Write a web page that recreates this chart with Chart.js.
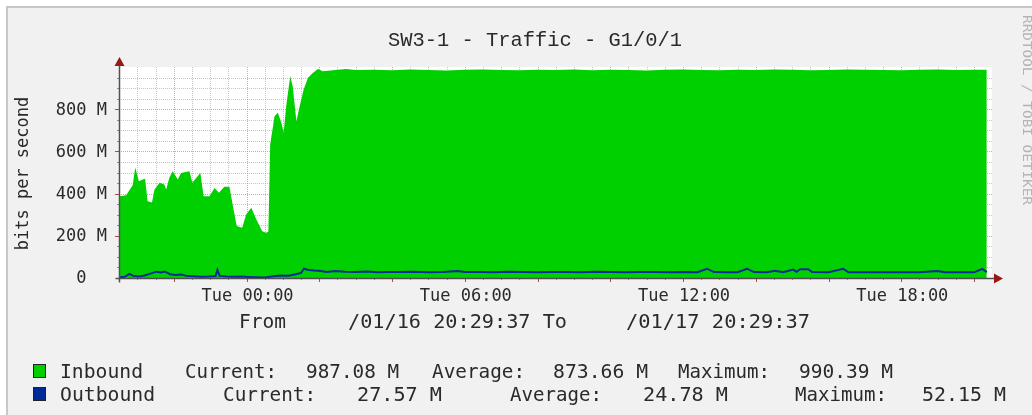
<!DOCTYPE html>
<html><head><meta charset="utf-8">
<script src="https://cdn.jsdelivr.net/npm/chart.js@4/dist/chart.umd.min.js"></script>
<style>html,body{margin:0;padding:0;background:#fff;overflow:hidden}</style>
</head><body>
<canvas id="c" width="1032" height="415"></canvas>
<script>
// ---------- data ----------
const titleText = 'SW3-1 - Traffic - G1/0/1';
const yAxisTitle = 'bits per second';
const sideText = 'RRDTOOL / TOBI OETIKER';
// hours relative to Tue 00:00
const inTimes = [-3.49,-3.31,-3.17,-3.13,-3.06,-2.96,-2.85,-2.79,-2.72,-2.60,-2.53,-2.39,-2.26,-2.21,-2.12,-2.03,-1.89,-1.80,-1.57,-1.49,-1.38,-1.27,-1.18,-1.02,-0.88,-0.76,-0.61,-0.47,-0.39,-0.27,-0.12,-0.01,0.13,0.27,0.43,0.54,0.60,0.65,0.77,0.86,0.96,1.02,1.09,1.20,1.27,1.37,1.46,1.57,1.69,1.82,1.96,2.10,2.37,2.74,3.0,3.5,4.0,4.5,5.0,5.5,6.0,6.5,7.0,7.5,8.0,8.5,9.0,9.5,10.0,10.5,11.0,11.5,12.0,12.5,13.0,13.5,14.0,14.5,15.0,15.5,16.0,16.5,17.0,17.5,18.0,18.5,19.0,19.5,20.0,20.35];
const inValues = [388,392,429,440,524,459,467,470,364,358,419,451,443,419,476,506,467,498,506,451,475,498,388,388,427,404,432,432,356,246,238,301,333,277,222,214,220,633,767,783,735,688,814,956,909,743,814,893,949,972,991,980,985,990,986,987,985,988,986,984,987,988,986,985,987,986,988,985,987,986,984,987,988,986,985,987,986,988,987,985,986,988,987,986,985,987,988,986,987,987];
const outTimes = [-3.49,-3.35,-3.22,-3.10,-2.95,-2.80,-2.62,-2.48,-2.35,-2.25,-2.10,-1.95,-1.80,-1.62,-1.45,-1.25,-1.05,-0.85,-0.80,-0.74,-0.55,-0.35,-0.15,0.05,0.25,0.40,0.55,0.75,0.95,1.15,1.35,1.50,1.58,1.70,1.85,2.00,2.20,2.45,2.70,3.0,3.3,3.6,3.9,4.2,4.6,5.0,5.4,5.8,6.0,6.4,6.8,7.2,7.6,8.0,8.4,8.8,9.2,9.6,10.0,10.4,10.8,11.2,11.6,12.0,12.4,12.66,12.85,13.2,13.5,13.76,13.95,14.3,14.53,14.75,15.03,15.12,15.22,15.44,15.55,16.0,16.4,16.55,17.0,17.5,18.0,18.5,18.99,19.2,19.6,20.0,20.23,20.35];
const outValues = [3,6,20,9,7,12,22,30,26,31,18,14,17,9,8,6,7,9,38,10,7,6,7,5,3,2,4,8,12,11,18,24,44,38,35,34,29,33,30,28,31,27,29,28,30,27,28,33,28,29,27,30,28,27,29,28,27,30,28,27,28,29,27,28,27,44,28,27,27,44,28,27,34,27,40,29,42,42,28,27,44,27,27,27,27,27,33,27,27,27,43,27.6];
const yTickValues = [0,200,400,600,800];
const yTickLabels = ['0  ','200 M','400 M','600 M','800 M'];
const xTickValues = [0,6,12,18];
const xTickLabels = ['Tue 00:00','Tue 06:00','Tue 12:00','Tue 18:00'];
const seriesNames = ['Inbound','Outbound'];
const seriesColors = ['#00CF00','#002A97'];
const statLabels = ['Current:','Average:','Maximum:'];
const inboundStats = ['987.08 M','873.66 M','990.39 M'];
const outboundStats = ['27.57 M','24.78 M','52.15 M'];
const fromLine = ['From','/01/16 20:29:37 To','/01/17 20:29:37'];
const X_MIN = -3.5064, X_MAX = 20.4936, Y_MAX = 1000;

// ---------- helpers ----------
function fitText(ctx, text, x, y, w) {
  const m = ctx.measureText(text).width;
  ctx.save(); ctx.translate(x, y); ctx.scale(w / m, 1);
  ctx.textAlign = 'left'; ctx.fillText(text, 0, 0); ctx.restore();
}
const MONO = '"DejaVu Sans Mono", monospace';

const decor = {
  id: 'rrdDecor',
  beforeDraw(chart) {
    const ctx = chart.ctx, a = chart.chartArea;
    ctx.save();
    ctx.fillStyle = '#ffffff'; ctx.fillRect(0, 0, 1032, 415);
    ctx.fillStyle = '#f1f1f1'; ctx.fillRect(7, 7, 1030, 410);
    ctx.strokeStyle = '#c8c8c8'; ctx.lineWidth = 2;
    ctx.beginPath(); ctx.moveTo(7, 420); ctx.lineTo(7, 7); ctx.lineTo(1040, 7); ctx.stroke();
    ctx.fillStyle = '#ffffff'; ctx.fillRect(a.left, a.top, a.right - a.left, a.bottom - a.top);
    ctx.restore();
  },
  beforeDatasetsDraw(chart) {
    const ctx = chart.ctx, a = chart.chartArea, xs = chart.scales.x, ys = chart.scales.y;
    ctx.save(); ctx.lineWidth = 1;
    for (let v = 50; v < Y_MAX; v += 50) {
      const major = v % 200 === 0;
      const py = Math.round(ys.getPixelForValue(v)) + 0.5;
      ctx.strokeStyle = major ? 'rgba(240,120,120,0.75)' : 'rgba(150,150,150,0.55)';
      ctx.setLineDash([1, 1]);
      ctx.beginPath(); ctx.moveTo(a.left, py); ctx.lineTo(a.right, py); ctx.stroke();
      ctx.setLineDash([]);
      ctx.strokeStyle = major ? '#c04040' : '#909090';
      ctx.beginPath(); ctx.moveTo(a.left - (major ? 4 : 2), py); ctx.lineTo(a.left, py); ctx.stroke();
    }
    for (let h = Math.ceil(X_MIN * 2) / 2; h <= X_MAX; h += 0.5) {
      const major = Math.abs(h % 2) < 1e-9;
      const px = Math.round(xs.getPixelForValue(h)) + 0.5;
      ctx.strokeStyle = major ? 'rgba(240,120,120,0.75)' : 'rgba(150,150,150,0.55)';
      ctx.setLineDash([1, 1]);
      ctx.beginPath(); ctx.moveTo(px, a.top); ctx.lineTo(px, a.bottom); ctx.stroke();
      ctx.setLineDash([]);
      ctx.strokeStyle = major ? '#c04040' : '#909090';
      ctx.beginPath(); ctx.moveTo(px, a.bottom); ctx.lineTo(px, a.bottom + (major ? 4 : 2)); ctx.stroke();
    }
    ctx.restore();
  },
  afterDraw(chart) {
    const ctx = chart.ctx, a = chart.chartArea, xs = chart.scales.x, ys = chart.scales.y;
    ctx.save();
    // axes
    const ax = Math.round(a.left) + 0.5, ay = Math.round(a.bottom) + 0.5;
    ctx.strokeStyle = '#505050'; ctx.lineWidth = 1.5;
    ctx.beginPath(); ctx.moveTo(ax, ay + 4); ctx.lineTo(ax, a.top - 2); ctx.stroke();
    ctx.beginPath(); ctx.moveTo(ax - 4, ay); ctx.lineTo(a.right + 3, ay); ctx.stroke();
    ctx.fillStyle = '#981818';
    ctx.beginPath(); ctx.moveTo(ax - 5, a.top - 1); ctx.lineTo(ax + 5, a.top - 1); ctx.lineTo(ax, a.top - 10); ctx.closePath(); ctx.fill();
    ctx.beginPath(); ctx.moveTo(a.right + 2, ay - 5); ctx.lineTo(a.right + 2, ay + 5); ctx.lineTo(a.right + 11, ay); ctx.closePath(); ctx.fill();

    ctx.fillStyle = '#2a2a2a';
    // title
    ctx.font = '20px "Liberation Mono", monospace'; ctx.textBaseline = 'alphabetic';
    fitText(ctx, titleText, 388, 46, 294);
    // y ticks
    ctx.font = '17px ' + MONO; ctx.textAlign = 'right'; ctx.textBaseline = 'middle';
    yTickValues.forEach((v, i) => ctx.fillText(yTickLabels[i], 107, ys.getPixelForValue(v) + 1));
    // x ticks
    ctx.textAlign = 'center'; ctx.textBaseline = 'alphabetic';
    xTickValues.forEach((v, i) => ctx.fillText(xTickLabels[i], xs.getPixelForValue(v) + 1, 301));
    // y title
    ctx.save(); ctx.translate(24, 173.5); ctx.rotate(-Math.PI / 2);
    ctx.textAlign = 'center'; ctx.textBaseline = 'middle'; ctx.fillText(yAxisTitle, 0, 0); ctx.restore();
    // from line
    ctx.font = '19px ' + MONO; ctx.textBaseline = 'alphabetic';
    fitText(ctx, fromLine[0], 239, 328, 47);
    fitText(ctx, fromLine[1], 348, 328, 219);
    fitText(ctx, fromLine[2], 626, 328, 184);
    // legend boxes
    [364, 387].forEach((y, i) => {
      ctx.fillStyle = seriesColors[i]; ctx.fillRect(33, y, 13, 14);
      ctx.strokeStyle = '#222'; ctx.lineWidth = 1; ctx.strokeRect(33.5, y + 0.5, 12, 13);
    });
    ctx.fillStyle = '#2a2a2a';
    // legend row 1
    fitText(ctx, seriesNames[0], 60, 378, 83);
    fitText(ctx, statLabels[0], 185, 378, 92);
    fitText(ctx, inboundStats[0], 306, 378, 93);
    fitText(ctx, statLabels[1], 432, 378, 93);
    fitText(ctx, inboundStats[1], 553, 378, 95);
    fitText(ctx, statLabels[2], 678, 378, 92);
    fitText(ctx, inboundStats[2], 799, 378, 94);
    // legend row 2
    fitText(ctx, seriesNames[1], 60, 401, 95);
    fitText(ctx, statLabels[0], 223, 401, 93);
    fitText(ctx, outboundStats[0], 357, 401, 85);
    fitText(ctx, statLabels[1], 510, 401, 92);
    fitText(ctx, outboundStats[1], 643, 401, 85);
    fitText(ctx, statLabels[2], 795, 401, 92);
    fitText(ctx, outboundStats[2], 922, 401, 84);
    // side credit
    ctx.fillStyle = '#b4b4b4'; ctx.font = '13px ' + MONO; ctx.textBaseline = 'middle';
    ctx.save(); ctx.translate(1026, 110); ctx.rotate(Math.PI / 2);
    const sw = ctx.measureText(sideText).width;
    ctx.scale(190 / sw, 1); ctx.textAlign = 'center'; ctx.fillText(sideText, 0, 0); ctx.restore();
    ctx.restore();
  }
};

const toPts = (t, v) => t.map((h, i) => ({ x: h, y: v[i] }));
new Chart(document.getElementById('c').getContext('2d'), {
  type: 'line',
  data: { datasets: [
    { label: seriesNames[0], data: toPts(inTimes, inValues), fill: 'origin', backgroundColor: seriesColors[0],
      borderColor: seriesColors[0], borderWidth: 0, pointRadius: 0, tension: 0, order: 2 },
    { label: seriesNames[1], data: toPts(outTimes, outValues), fill: false, borderColor: seriesColors[1],
      borderWidth: 2, pointRadius: 0, tension: 0, order: 1 }
  ] },
  options: {
    responsive: false, animation: false, devicePixelRatio: 1,
    layout: { padding: { left: 119, right: 40, top: 67, bottom: 137 } },
    scales: {
      x: { type: 'linear', min: X_MIN, max: X_MAX, display: false },
      y: { min: 0, max: Y_MAX, display: false }
    },
    plugins: { legend: { display: false }, tooltip: { enabled: false } }
  },
  plugins: [decor]
});
</script>
</body></html>
